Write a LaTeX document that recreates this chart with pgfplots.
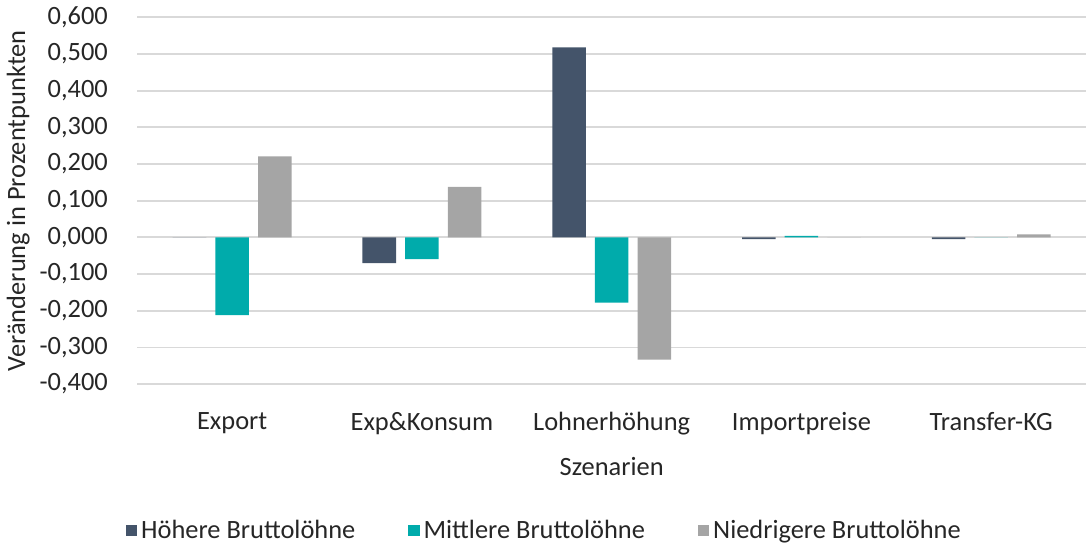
\documentclass[border=0pt]{standalone}
\usepackage{fontspec}
\setmainfont{Carlito}
\usepackage{pgfplots}
\pgfplotsset{compat=1.18}
\definecolor{hoch}{HTML}{44546A}
\definecolor{mittel}{HTML}{00ABAB}
\definecolor{nied}{HTML}{A5A5A5}
\definecolor{gridc}{HTML}{D9D9D9}
\definecolor{txt}{HTML}{262626}
\newcommand{\lf}{\fontsize{13}{15}\selectfont}

\begin{document}
\begin{tikzpicture}
\begin{axis}[
  scale only axis, width=467pt, height=180.5pt,
  ybar=4.5pt, bar width=16.5pt,
  xmin=-0.5, xmax=4.5, ymin=-0.4, ymax=0.6,
  xtick={0,1,2,3,4},
  xticklabels={Export, Exp\&Konsum, Lohnerhöhung, Importpreise, Transfer-KG},
  ytick={-0.4,-0.3,...,0.61},
  ymajorgrids, grid style={gridc, line width=0.9pt},
  axis line style={draw=none}, tick style={draw=none},
  xticklabel style={font=\lf, text=txt, yshift=-6pt},
  yticklabel style={font=\lf, text=txt, xshift=-11pt},
  /pgf/number format/.cd, fixed, fixed zerofill, precision=3, use comma, 1000 sep={}, assume math mode=true,
  /pgfplots/.cd,
  xlabel={Szenarien}, xlabel style={font=\lf, text=txt, yshift=-4pt},
  ylabel={Veränderung in Prozentpunkten}, ylabel style={font=\lf, text=txt, yshift=-2pt},
  legend style={at={(0.43,-0.40)}, anchor=center, draw=none, fill=none,
    legend columns=3, font=\lf, text=txt,
    /tikz/every even column/.append style={column sep=24pt}},
  legend image code/.code={\fill[#1] (0.6pt,-2.8pt) rectangle (6.2pt,2.8pt);},
]
\addplot[fill=hoch, draw=none] coordinates {(0,0) (1,-0.070) (2,0.518) (3,-0.005) (4,-0.005)};
\addplot[fill=mittel, draw=none] coordinates {(0,-0.212) (1,-0.059) (2,-0.178) (3,0.004) (4,0)};
\addplot[fill=nied, draw=none] coordinates {(0,0.221) (1,0.138) (2,-0.333) (3,0) (4,0.008)};
\legend{Höhere Bruttolöhne, Mittlere Bruttolöhne, Niedrigere Bruttolöhne}
\end{axis}
\end{tikzpicture}
\end{document}
